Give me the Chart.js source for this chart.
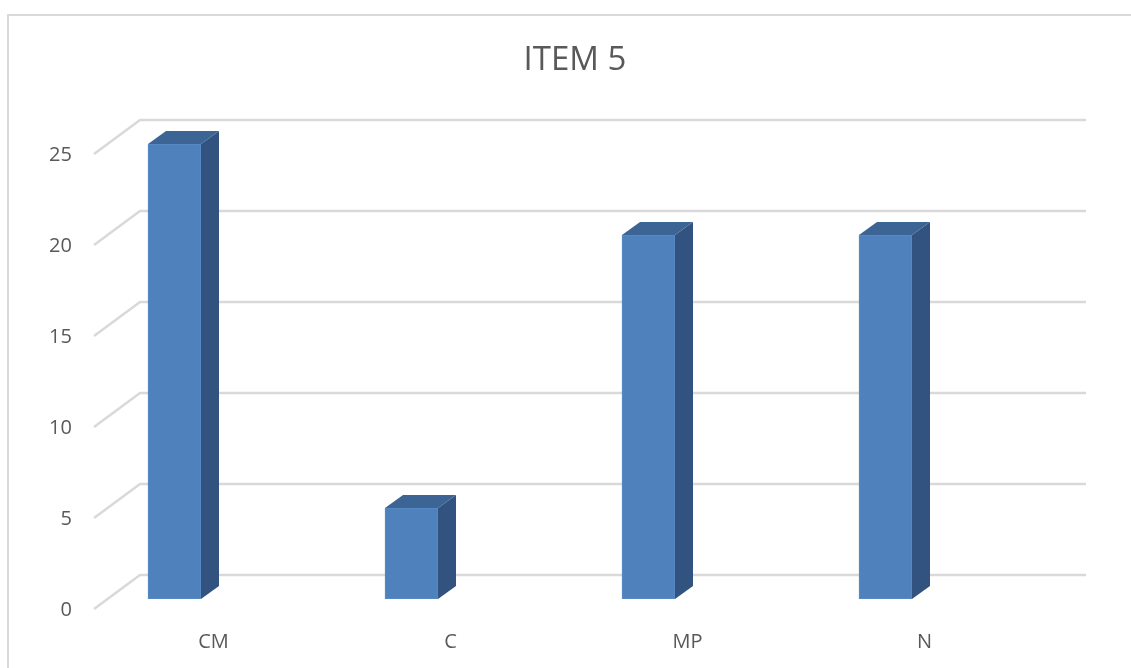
<!DOCTYPE html>
<html>
<head>
<meta charset="utf-8">
<title>ITEM 5</title>
<script src="https://cdn.jsdelivr.net/npm/chart.js@4"></script>
<style>
    html, body { margin: 0; background: #fff; overflow: hidden; }
    #box { position: relative; width: 1131px; height: 668px; }
    #frame { position: absolute; left: 7px; top: 14px; right: 0; bottom: 0; border-left: 2px solid #d9d9d9; border-top: 2px solid #d9d9d9; }
    #itemChart { position: absolute; left: 0; top: 0; }
</style>
</head>
<body>
<div id="box">
    <div id="frame"></div>
    <canvas id="itemChart" width="1131" height="668"></canvas>
</div>
<script>
// dados
const categories = ['CM', 'C', 'MP', 'N'];
const values = [25, 5, 20, 20];
const yTicks = [0, 5, 10, 15, 20, 25];

const textColor = '#595959';
const gridColor = '#d9d9d9';
const frontColor = '#4f81bd';
const edgeColor = '#5a8cc8';
const sideColor = '#325380';
const topColor = '#3c6494';

// parede do fundo: linhas de grade com a diagonal à esquerda
const wallGrid = {
    id: 'wallGrid',
    beforeDatasetsDraw(chart) {
        const ctx = chart.ctx;
        const x = chart.scales.x;
        const y = chart.scales.y;
        ctx.save();
        ctx.strokeStyle = gridColor;
        ctx.lineWidth = 2.5;
        yTicks.forEach(t => {
            const py = y.getPixelForValue(t);
            ctx.beginPath();
            ctx.moveTo(x.left + 38, py + 10);
            ctx.lineTo(x.left + 84, py - 24);
            ctx.lineTo(x.right + 82, py - 24);
            ctx.stroke();
        });
        ctx.restore();
    }
};

// faces lateral e superior das barras
const barDepth = {
    id: 'barDepth',
    afterDatasetsDraw(chart) {
        const ctx = chart.ctx;
        const dx = 18;
        const dy = 13;
        chart.getDatasetMeta(0).data.forEach(bar => {
            const left = bar.x - bar.width / 2;
            const right = bar.x + bar.width / 2;
            ctx.fillStyle = sideColor;
            ctx.beginPath();
            ctx.moveTo(right, bar.y);
            ctx.lineTo(right + dx, bar.y - dy);
            ctx.lineTo(right + dx, bar.base - dy);
            ctx.lineTo(right, bar.base);
            ctx.closePath();
            ctx.fill();
            ctx.fillStyle = topColor;
            ctx.beginPath();
            ctx.moveTo(left, bar.y);
            ctx.lineTo(left + dx, bar.y - dy);
            ctx.lineTo(right + dx, bar.y - dy);
            ctx.lineTo(right, bar.y);
            ctx.closePath();
            ctx.fill();
        });
    }
};

new Chart(document.getElementById('itemChart').getContext('2d'), {
    type: 'bar',
    data: {
        labels: categories,
        datasets: [{
            data: values,
            backgroundColor: frontColor,
            borderColor: edgeColor,
            borderWidth: 1,
            borderSkipped: false,
            barThickness: 53
        }]
    },
    plugins: [wallGrid, barDepth],
    options: {
        responsive: false,
        animation: false,
        layout: { padding: { left: 19 } },
        plugins: {
            legend: { display: false },
            tooltip: { enabled: false },
            title: {
                display: true,
                text: 'ITEM 5',
                color: textColor,
                font: { family: '"Open Sans"', size: 33, weight: 'normal' },
                padding: { top: 41, bottom: 63.4 }
            }
        },
        scales: {
            x: {
                grid: { display: false },
                border: { display: false },
                afterFit(axis) { axis.height = 69; },
                ticks: {
                    color: textColor,
                    font: { family: '"Open Sans"', size: 20 },
                    padding: 23,
                    labelOffset: 39,
                    maxRotation: 0
                }
            },
            y: {
                min: 0,
                max: 25,
                grid: { display: false },
                border: { display: false },
                afterFit(axis) { axis.width = 37; },
                afterBuildTicks(axis) { axis.ticks = yTicks.map(v => ({ value: v })); },
                ticks: {
                    color: textColor,
                    font: { family: '"Open Sans"', size: 20 },
                    mirror: true,
                    crossAlign: 'far',
                    padding: -7,
                    labelOffset: 11
                }
            },
            // eixo vazio só para reservar a margem direita
            spare: {
                position: 'right',
                grid: { display: false },
                border: { display: false },
                ticks: { display: false },
                afterFit(axis) { axis.width = 127; }
            }
        }
    }
});
</script>
</body>
</html>
